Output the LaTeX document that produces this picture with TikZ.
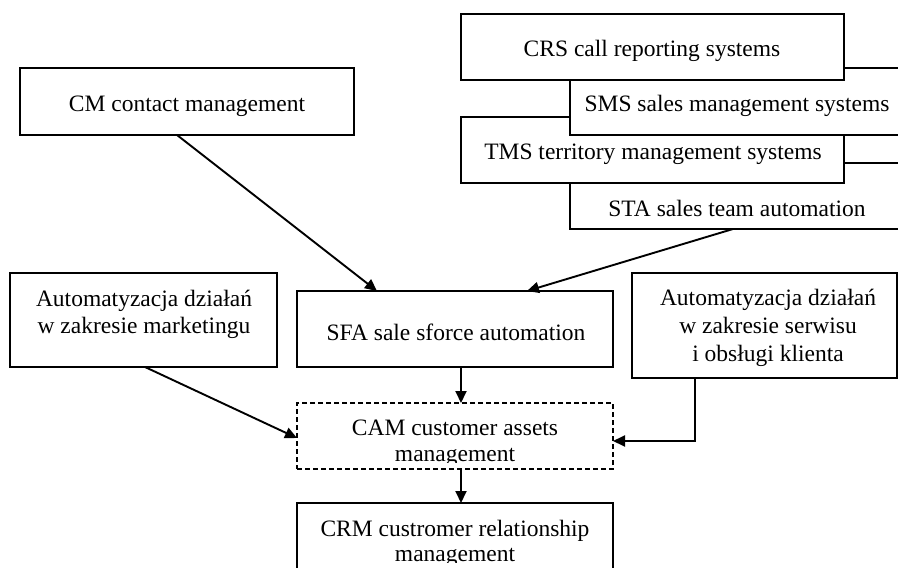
\documentclass[tikz,border=0pt]{standalone}
\usepackage{fontspec}
\setmainfont{Liberation Serif}
\usetikzlibrary{arrows.meta}
\begin{document}
\begin{tikzpicture}[x=1pt,y=-1pt,
  box/.style={draw,fill=white,line width=1.35pt,inner sep=0pt,outer sep=0pt,rectangle},
  dbox/.style={box,dash pattern=on 5pt off 3pt},
  txt/.style={font=\fontsize{23.5}{27}\selectfont,inner sep=0pt,outer sep=0pt,anchor=base},
  arr/.style={line width=1.9pt,-{Triangle[length=12pt,width=11pt]}}]
\useasboundingbox (0,0) rectangle (898,568);
\clip (0,0) rectangle (898,568);
% top-right stack (drawn bottom to top)
\node[box,minimum width=335pt,minimum height=66pt] (sta) at (737.5,196) {};
\node[txt] (staT) at (737,216.7) {STA sales team automation};
\node[box,minimum width=383pt,minimum height=66pt] (tms) at (652.5,150) {};
\node[txt] (tmsT) at (653,159) {TMS territory management systems};
\node[box,minimum width=335pt,minimum height=67pt] (sms) at (737.5,101.5) {};
\node[txt] (smsT) at (737,111) {SMS sales management systems};
\node[box,minimum width=383pt,minimum height=66pt] (crs) at (652.5,47) {};
\node[txt] (crsT) at (652,56.7) {CRS call reporting systems};
% CM
\node[box,minimum width=334pt,minimum height=67pt] (cm) at (187,101.5) {};
\node[txt] (cmT) at (187,111.7) {CM contact management};
% SFA
\node[box,minimum width=316pt,minimum height=76pt] (sfa) at (455,329) {};
\node[txt] (sfaT) at (456,340) {SFA sale sforce automation};
% marketing
\node[box,minimum width=267pt,minimum height=94pt] (mkt) at (143.5,320) {};
\node[txt] (mktA) at (144,306.7) {Automatyzacja działań};
\node[txt] (mktB) at (144,333.3) {w zakresie marketingu};
% service
\node[box,minimum width=265pt,minimum height=105pt] (svc) at (764.5,325.5) {};
\node[txt] (svcA) at (768,305) {Automatyzacja działań};
\node[txt] (svcB) at (768,333.3) {w zakresie serwisu};
\node[txt] (svcC) at (768,361) {i obsługi klienta};
% CAM
\node[dbox,minimum width=316pt,minimum height=66pt] (cam) at (455,436) {};
\node[txt] (camA) at (455,435.5) {CAM customer assets};
\begin{scope}
\clip (0,0) rectangle (898,462);
\node[txt] (camB) at (455,461.7) {management};
\end{scope}
% CRM
\node[box,minimum width=316pt,minimum height=97pt] (crm) at (455,551.5) {};
\node[txt] (crmA) at (455,536.7) {CRM custromer relationship};
\begin{scope}
\clip (0,0) rectangle (898,562);
\node[txt] (crmB) at (455,561.7) {management};
\end{scope}
% connectors
\draw[arr] ([xshift=157pt]cm.south west) -- ([xshift=80pt]sfa.north west);
\draw[arr] ([xshift=163pt]sta.south west) -- ([xshift=230pt]sfa.north west);
\draw[arr] ([xshift=164pt]sfa.south west) -- ([xshift=164pt]cam.north west);
\draw[arr] ([xshift=164pt]cam.south west) -- ([xshift=164pt]crm.north west);
\draw[arr] ([xshift=135pt]mkt.south west) -- ([yshift=-2pt]cam.west);
\draw[arr] ([xshift=63pt]svc.south west) |- ([yshift=-5pt]cam.east);
\end{tikzpicture}
\end{document}
